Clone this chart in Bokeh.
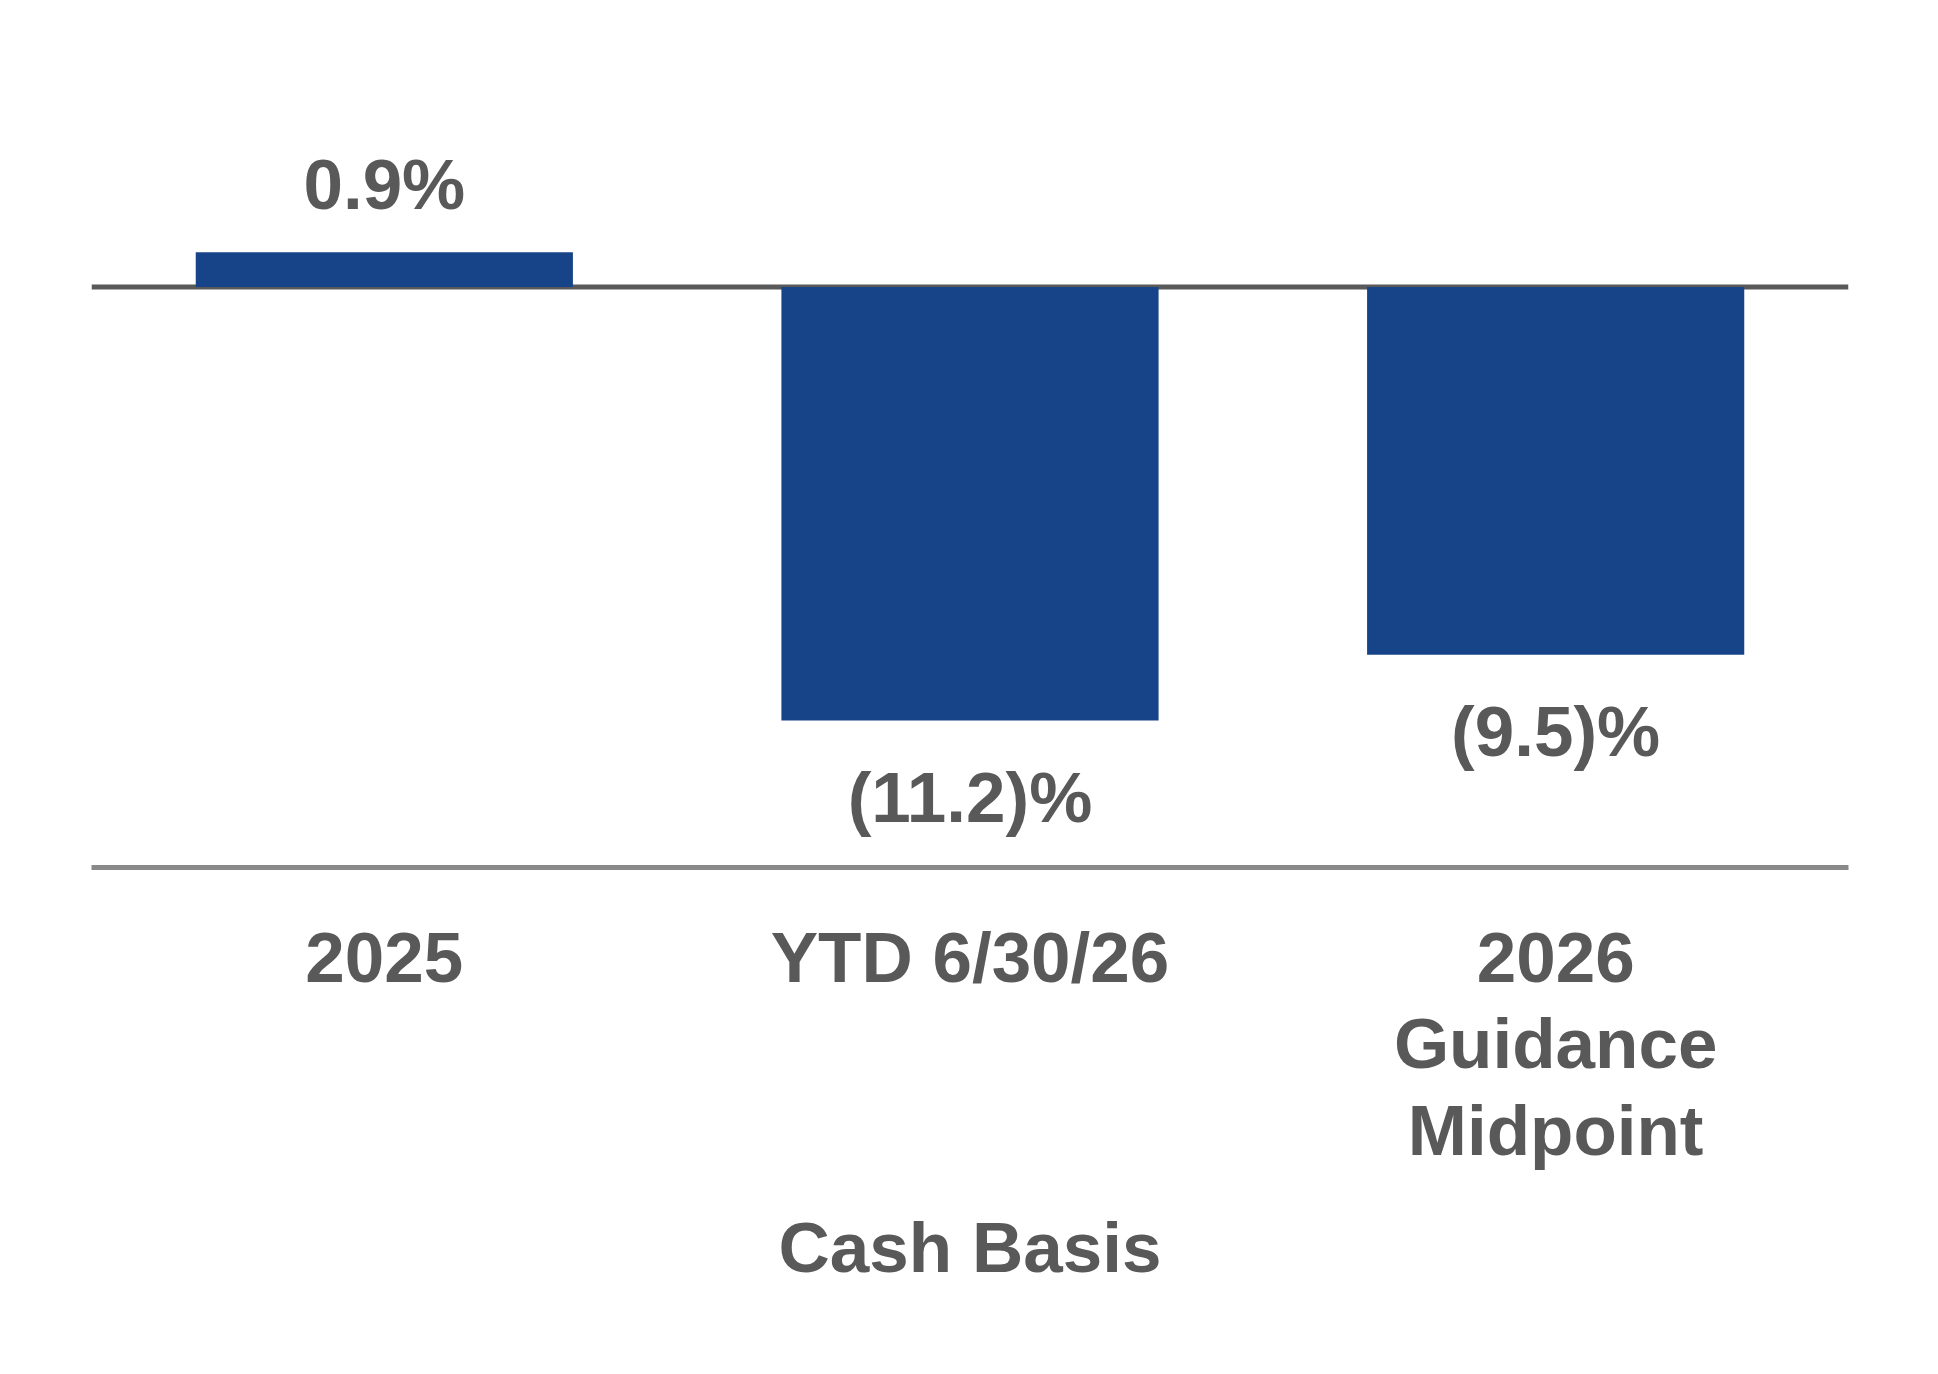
from bokeh.plotting import figure
from bokeh.models import ColumnDataSource, Span, FactorRange, Range1d
from bokeh.core.properties import value
from bokeh.embed import file_html
from bokeh.resources import INLINE

# data
categories = ["2025", "YTD 6/30/26", "2026\nGuidance\nMidpoint"]
growth = [0.9, -11.2, -9.5]
axis_title = "Cash Basis"

bar_color = "#174489"
text_color = "#595959"
font = "Liberation Sans"

labels = [f"{v:.1f}%" if v >= 0 else f"({-v:.1f})%" for v in growth]
offsets = [-68 if v >= 0 else 77 for v in growth]

source = ColumnDataSource(data=dict(cat=categories, growth=growth,
                                    label=labels, off=offsets))

p = figure(x_range=FactorRange(*categories), y_range=Range1d(-15, 5),
           frame_width=1757, frame_height=774,
           min_border_left=91, min_border_right=72,
           min_border_top=93, min_border_bottom=480,
           y_axis_location=None, toolbar_location=None,
           output_backend="svg")

p.outline_line_color = None
p.xgrid.grid_line_color = None
p.ygrid.grid_line_color = None
p.background_fill_color = "white"
p.border_fill_color = "white"

zero = Span(location=0, dimension="width", line_color=text_color,
            line_width=5, level="underlay")
p.add_layout(zero)

p.vbar(x="cat", top="growth", bottom=0, width=0.644, source=source,
       fill_color=bar_color, line_color=None)

p.text(x="cat", y="growth", text="label", y_offset="off", source=source,
       text_align="center", text_baseline="alphabetic",
       text_font=value(font), text_font_style="bold",
       text_font_size="71px", text_color=text_color)

xa = p.xaxis[0]
xa.axis_line_color = "#898989"
xa.axis_line_width = 5
xa.major_tick_line_color = None
xa.minor_tick_line_color = None
xa.major_tick_out = 0
xa.major_tick_in = 0
xa.major_label_standoff = 50
xa.major_label_text_font = font
xa.major_label_text_font_style = "bold"
xa.major_label_text_font_size = "71px"
xa.major_label_text_color = text_color
xa.major_label_text_line_height = 1.1
xa.axis_label = axis_title
xa.axis_label_standoff = 35
xa.axis_label_text_font = font
xa.axis_label_text_font_style = "bold"
xa.axis_label_text_font_size = "71px"
xa.axis_label_text_color = text_color

open("out.html", "w").write(file_html(p, INLINE))
